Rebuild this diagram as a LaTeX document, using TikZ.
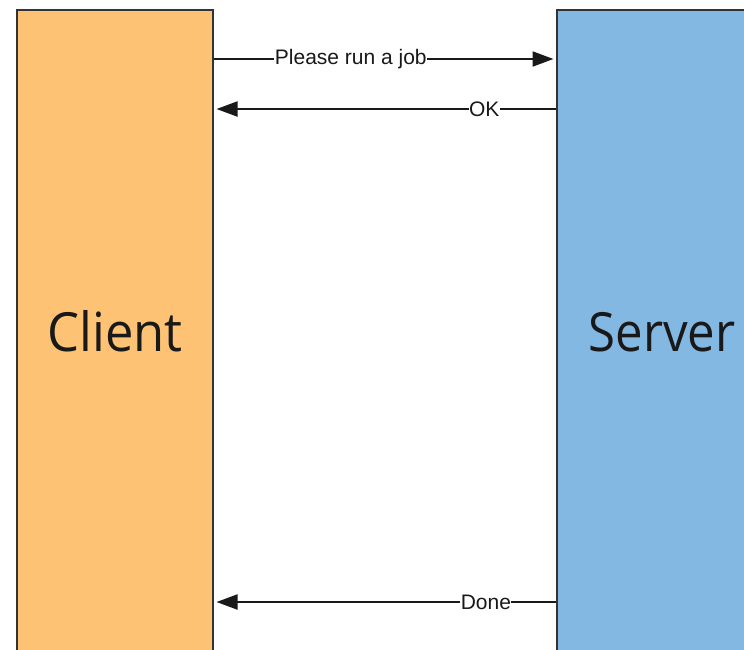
\documentclass[tikz,border=0pt]{standalone}
\usepackage{fontspec}
\setmainfont{Liberation Sans}
\newfontfamily\boxfont{Open Sans}
\usetikzlibrary{arrows.meta}
\definecolor{clientfill}{HTML}{FDC273}
\definecolor{serverfill}{HTML}{83B8E3}
\definecolor{edgegray}{HTML}{333333}
\tikzset{
  actor/.style={draw=edgegray, line width=2pt, minimum height=646pt, inner sep=0pt,
    font=\boxfont\fontsize{54}{60}\selectfont, text=black!90},
  msg/.style={draw=black!90, line width=2pt, -{Triangle[length=21pt,width=15pt]}, shorten >=2.5pt},
  lbl/.style={fill=white, inner sep=0.5pt, font=\fontsize{21}{24}\selectfont, text=black!90}
}
\begin{document}
\begin{tikzpicture}[x=1pt,y=-1pt]
\useasboundingbox (0,0) rectangle (744,649);
\clip (0,0) rectangle (744,649);
\node[actor, fill=clientfill, minimum width=196pt] (client) at (115,333) {\raisebox{5pt}{\scalebox{0.94}[1]{Client}}\hspace{8pt}};
\node[actor, fill=serverfill, minimum width=210pt] (server) at (662,333) {\raisebox{2pt}{\scalebox{0.91}[1]{Server}}};
\draw[msg] (client.east |- {(0,59)}) -- node[lbl, pos=0.4] (l1) {Please run a job} (server.west |- {(0,59)});
\draw[msg] (server.west |- {(0,109)}) -- node[lbl, pos=0.21] (l2) {OK} (client.east |- {(0,109)});
\draw[msg] (server.west |- {(0,602)}) -- node[lbl, pos=0.205] (l3) {Done} (client.east |- {(0,602)});
\end{tikzpicture}
\end{document}
